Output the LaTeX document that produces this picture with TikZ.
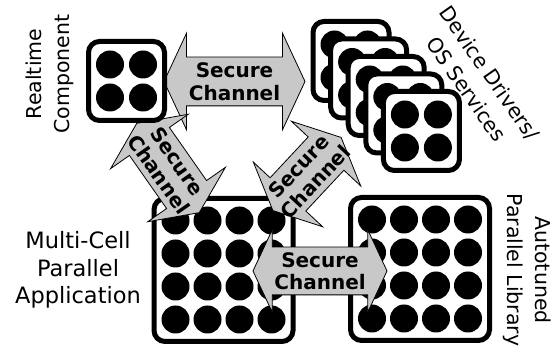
\documentclass[tikz,border=0pt]{standalone}
\usepackage{fontspec}
\setmainfont{DejaVu Sans}
\usetikzlibrary{shapes.arrows, positioning, calc}
\definecolor{chgray}{RGB}{200,200,200}

\begin{document}
\begin{tikzpicture}[x=1pt, y=1pt,
		cell/.style={rectangle, draw=black, line width=5pt, rounded corners=11pt, fill=white, inner sep=0pt},
		smallcell/.style={cell, minimum width=76pt, minimum height=79pt},
		bigcell/.style={cell, minimum width=139pt, minimum height=143pt},
		core/.style={circle, fill=black, minimum size=28pt, inner sep=0pt},
		channel/.style={double arrow, draw=black, fill=chgray, line width=0.8pt,
			inner xsep=0pt, inner ysep=24pt, double arrow tip angle=130},
		chtext/.style={font=\fontsize{20}{22.5}\selectfont\bfseries, align=center, inner sep=0pt},
		elabel/.style={font=\fontsize{20.5}{28}\selectfont, align=center, inner sep=0pt}
		]
		\useasboundingbox (0,0) rectangle (556,347);

		\node[bigcell] (mc) at (223.5,77) {};
		\node[bigcell] (at) at (420,78) {};
		\foreach \i in {0,...,3}
			\foreach \j in {0,...,3} {
				\node[core] (mc\i\j) at ($(mc)+(-48+32*\i,49.5-33*\j)$) {};
				\node[core] (at\i\j) at ($(at)+(-48+32*\i,49.5-33*\j)$) {};
			}

		\node[channel, minimum height=141pt, double arrow head extend=24pt] (rtdd) at (234.5,265.5) {};
		\node[chtext] (rtddtext) at (rtdd) {Secure\\Channel};
		\node[channel, minimum height=134pt, inner ysep=23.5pt, double arrow head extend=17.5pt] (mcat) at (320,76) {};
		\node[chtext] (mcattext) at (mcat) {Secure\\Channel};
		\node[channel, rotate=-55, minimum height=109pt, double arrow head extend=23pt] (rtmc) at (168,179) {};
		\node[chtext, rotate=-55] (rtmctext) at (rtmc) {Secure\\Channel};
		\node[channel, rotate=47, minimum height=100pt, double arrow head extend=23pt] (mcdd) at (307,173) {};
		\node[chtext, rotate=47] (mcddtext) at (mcdd) {Secure\\Channel};

		\node[smallcell] (rt) at (126.5,266) {};
		\foreach \i in {0,1}
			\foreach \j in {0,1}
				\node[core] (rt\i\j) at ($(rt)+(-16.5+33*\i,16.5-33*\j)$) {};

		\foreach \k in {0,...,4} {
			\node[smallcell] (dd\k) at (351+17.6*\k,286-17.5*\k) {};
			\foreach \i in {0,1}
				\foreach \j in {0,1}
					\node[core] (dd\k\i\j) at ($(dd\k)+(-16.5+33*\i,16.5-33*\j)$) {};
		}

		\node[elabel, rotate=90] (rtlabel) at (50,273) {Realtime\\Component};
		\node[elabel, rotate=-55] (ddlabel) at (478,266) {Device Drivers/\\OS Services};
		\node[elabel, font=\fontsize{22.5}{27.5}\selectfont] (mclabel) at (78,77) {Multi-Cell\\Parallel\\Application};
		\node[elabel, rotate=-90] (atlabel) at (527.5,77) {Autotuned\\Parallel Library};
	\end{tikzpicture}
\end{document}
